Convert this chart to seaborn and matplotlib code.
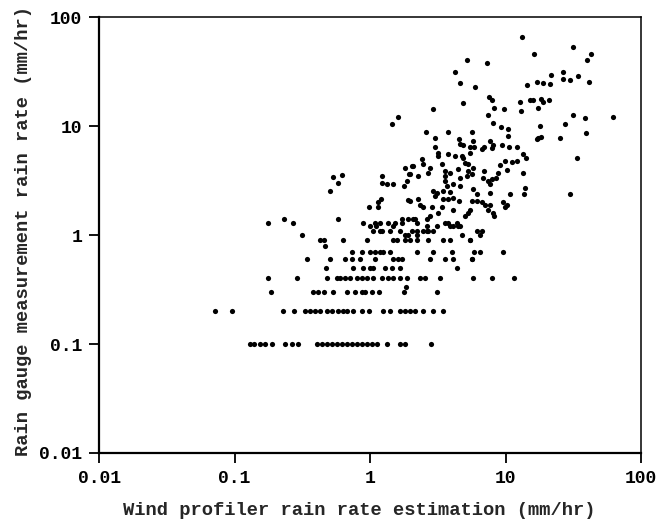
import matplotlib
matplotlib.use("Agg")
import matplotlib.pyplot as plt
import matplotlib.ticker as mticker
import pandas as pd
import seaborn as sns

# ------------------------------------------------------------
# Data (mm/hr)
# gauge values below 1 mm/hr are quantized at 0.1 mm/hr,
# so those points sit on rows: list the profiler values per row
# ------------------------------------------------------------
row_0p1 = [0.13, 0.14, 0.154, 0.168, 0.19, 0.236, 0.266, 0.294, 0.406, 0.44,
           0.48, 0.52, 0.57, 0.62, 0.68, 0.74, 0.80, 0.87, 0.95, 1.03,
           1.13, 1.34, 1.66, 1.81, 2.82]
row_0p2 = [0.072, 0.096, 0.228, 0.275, 0.33, 0.36, 0.39, 0.43, 0.48, 0.52,
           0.58, 0.63, 0.68, 0.75, 0.87, 0.98, 1.25, 1.40, 1.66, 1.81,
           1.97, 2.15, 2.46, 2.92, 3.46]
row_0p3 = [0.186, 0.38, 0.41, 0.457, 0.53, 0.68, 0.77, 0.87, 0.92, 1.03,
           1.17, 1.78, 3.12]
row_0p4 = [0.177, 0.29, 0.48, 0.57, 0.60, 0.65, 0.71, 0.80, 0.87, 0.95,
           1.05, 1.23, 1.36, 1.48, 1.66, 1.88, 2.34, 2.55, 3.29, 5.76,
           7.96, 11.6]
row_0p5 = [0.47, 0.75, 0.89, 1.0, 1.05, 1.29, 1.45, 1.66, 4.39]
row_0p6 = [0.343, 0.51, 0.65, 0.74, 0.84, 1.09, 1.48, 1.61, 1.72, 2.77,
           3.58, 4.10, 5.66]
row_0p7 = [0.74, 0.87, 1.0, 1.09, 1.19, 1.25, 1.40, 2.22, 2.92, 4.02,
           5.86, 6.48, 9.6]
row_0p8 = [0.466]
row_0p9 = [0.43, 0.457, 0.63, 0.95, 1.48, 1.58, 1.81, 1.97, 2.22, 2.68,
           3.46, 3.89, 5.47]

# (profiler, gauge) pairs above ~1 mm/hr
high_pts = [(13.2, 65.6), (31.6, 53), (42.8, 45.8), (40.0, 40.3), (16.2, 45.8),
            (5.2, 40.3), (7.3, 37.8), (4.24, 31.3), (4.62, 24.8), (5.96, 22.8),
            (4.86, 16.3), (2.92, 14.3), (1.61, 12.1), (1.45, 10.4), (7.56, 18.5),
            (7.96, 17.3), (8.23, 14.6), (7.43, 12.6), (8.10, 10.7), (9.28, 9.8),
            (10.4, 9.4), (10.4, 8.1), (9.77, 14.3), (12.8, 16.6), (13.0, 13.7),
            (14.4, 23.8), (17.1, 25.3), (18.9, 24.8), (21.3, 24.3), (21.7, 29.4),
            (15.1, 17.3), (15.9, 17.3), (18.3, 17.7), (18.9, 16.6), (21.0, 17.3),
            (17.4, 14.6), (18.0, 10.0), (27.6, 10.4), (26.6, 31.3), (26.6, 27.0),
            (30.0, 26.4), (34.4, 28.8), (41.4, 25.3), (31.6, 12.6), (38.6, 11.8),
            (62.2, 12.1), (39.3, 8.6), (33.8, 5.1), (30.0, 2.4), (25.3, 7.8),
            (17.4, 7.8), (18.3, 7.9), (17.1, 7.6)]

mid_pts = [(2.59, 8.8), (3.02, 7.8), (3.02, 6.4), (3.76, 8.8), (4.54, 7.6),
           (4.62, 6.8), (4.86, 6.7), (5.66, 8.8), (5.76, 7.3), (5.47, 6.4),
           (5.86, 6.4), (6.71, 6.2), (6.94, 6.4), (7.69, 7.3), (8.10, 6.7),
           (7.96, 6.3), (9.44, 6.7), (10.6, 6.4), (12.2, 6.4), (13.5, 5.5),
           (14.2, 5.1), (3.18, 5.6), (3.18, 5.3), (3.76, 5.5), (4.24, 5.3),
           (4.78, 5.3), (4.86, 5.1), (5.47, 5.6), (5.03, 4.6), (5.29, 4.5),
           (2.08, 4.3), (2.42, 5.0), (2.46, 4.5), (2.77, 4.1), (3.40, 4.5),
           (2.26, 3.5), (2.68, 3.7), (3.58, 3.9), (3.89, 3.7), (3.58, 3.5),
           (4.46, 4.0), (4.62, 3.33), (5.29, 3.9), (5.76, 4.1), (5.66, 3.6),
           (5.21, 3.5), (6.94, 3.9), (6.83, 3.33), (7.43, 3.13), (7.96, 3.27),
           (7.69, 2.94), (8.52, 3.33), (9.13, 4.4), (8.82, 3.7), (9.94, 4.8),
           (10.3, 3.95), (11.2, 4.7), (12.2, 4.8), (13.5, 3.7), (13.9, 2.7),
           (13.7, 2.38), (10.8, 2.38), (7.69, 2.43), (3.58, 3.13), (3.70, 2.8),
           (4.10, 2.94), (4.62, 2.8), (2.92, 2.53), (3.12, 2.43), (3.02, 2.28),
           (3.46, 2.53), (3.89, 2.48), (3.46, 2.14), (3.76, 2.14), (4.10, 2.18),
           (4.54, 2.05), (4.10, 1.7), (5.76, 2.64), (6.17, 2.38), (5.66, 2.05),
           (6.17, 2.05), (6.71, 2.0), (7.06, 1.9), (7.69, 1.9), (7.43, 1.7),
           (9.60, 2.0), (10.3, 1.9), (9.94, 1.8), (5.47, 1.7), (5.29, 1.6),
           (5.03, 1.5), (8.10, 1.6), (2.26, 2.14), (2.34, 1.9), (2.46, 1.8),
           (2.87, 1.8), (3.18, 1.6), (3.40, 1.8), (1.97, 2.05), (1.97, 3.6)]

low_pts = [(2.08, 1.4), (2.22, 1.3), (2.63, 1.4), (3.58, 1.3), (3.76, 1.3),
           (4.46, 1.2), (4.62, 1.2), (3.12, 1.2), (2.63, 1.1), (2.22, 1.1),
           (4.10, 1.2), (6.71, 1.1), (0.53, 3.4), (0.62, 3.55), (0.58, 3.0),
           (0.51, 2.53), (1.23, 3.5), (1.23, 3.0), (1.34, 2.94), (1.48, 2.94),
           (1.81, 4.1), (2.04, 4.3), (1.94, 3.6), (1.88, 3.13), (1.78, 2.8),
           (1.91, 2.1), (1.21, 2.14), (1.15, 2.0), (1.15, 1.8), (0.98, 1.8),
           (0.89, 1.3), (1.09, 1.3), (1.10, 1.2), (1.19, 1.3), (1.36, 1.3),
           (1.48, 1.2), (1.53, 1.3), (1.72, 1.4), (1.91, 1.4), (1.0, 1.2),
           (1.19, 1.1), (1.40, 1.1), (1.66, 1.1), (1.05, 1.1), (1.23, 1.1),
           (1.72, 1.3), (2.15, 1.4), (1.81, 1.0), (1.91, 1.0), (2.04, 1.1),
           (2.22, 1.0), (2.46, 1.1), (2.68, 1.1), (2.63, 1.2), (2.92, 1.1),
           (2.77, 1.5), (3.89, 1.2), (4.39, 1.3), (4.78, 1.0), (6.17, 1.1),
           (5.47, 0.9), (6.48, 1.0), (5.66, 0.6), (8.23, 1.5), (1.84, 0.33),
           (0.177, 1.3), (0.23, 1.4), (0.27, 1.3), (0.315, 1.0), (0.58, 1.4)]

# ------------------------------------------------------------
# Build one table
# ------------------------------------------------------------
rows = {0.1: row_0p1, 0.2: row_0p2, 0.3: row_0p3, 0.4: row_0p4, 0.5: row_0p5,
        0.6: row_0p6, 0.7: row_0p7, 0.8: row_0p8, 0.9: row_0p9}
records = [(x, g) for g, xs in rows.items() for x in xs]
records += high_pts + mid_pts + low_pts
df = pd.DataFrame(records, columns=["profiler", "gauge"])

# ------------------------------------------------------------
# Plot
# ------------------------------------------------------------
sns.set_style("ticks")
plt.rcParams["font.family"] = ["Liberation Mono", "DejaVu Sans Mono"]
plt.rcParams["font.weight"] = "bold"

fig = plt.figure(figsize=(6.7, 5.24), dpi=100)
ax = fig.add_axes([0.1478, 0.1355, 0.809, 0.832])

sns.scatterplot(data=df, x="profiler", y="gauge", color="black", s=14,
                linewidth=0, ax=ax, legend=False)

ax.set_xscale("log")
ax.set_yscale("log")
ax.set_xlim(0.01, 100)
ax.set_ylim(0.01, 100)

tick_vals = [0.01, 0.1, 1, 10, 100]
tick_text = ["0.01", "0.1", "1", "10", "100"]
ax.set_xticks(tick_vals)
ax.set_xticklabels(tick_text)
ax.set_yticks(tick_vals)
ax.set_yticklabels(tick_text)
ax.xaxis.set_minor_locator(mticker.NullLocator())
ax.yaxis.set_minor_locator(mticker.NullLocator())
ax.tick_params(direction="out", length=7, width=1.3, labelsize=13, pad=5,
               colors="black")
for lab in ax.get_xticklabels() + ax.get_yticklabels():
    lab.set_fontweight("bold")

for side in ["left", "bottom"]:
    ax.spines[side].set_linewidth(1.6)
for side in ["top", "right"]:
    ax.spines[side].set_linewidth(1.1)
for sp in ax.spines.values():
    sp.set_color("black")

ax.set_xlabel("Wind profiler rain rate estimation (mm/hr)", fontsize=13.5,
              fontweight="bold", va="center")
ax.set_ylabel("Rain gauge measurement rain rate (mm/hr)", fontsize=13.5,
              fontweight="bold", va="center")
ax.xaxis.set_label_coords(0.48, -0.133)
ax.yaxis.set_label_coords(-0.14, 0.51)

fig.savefig("out.png", dpi=100)
